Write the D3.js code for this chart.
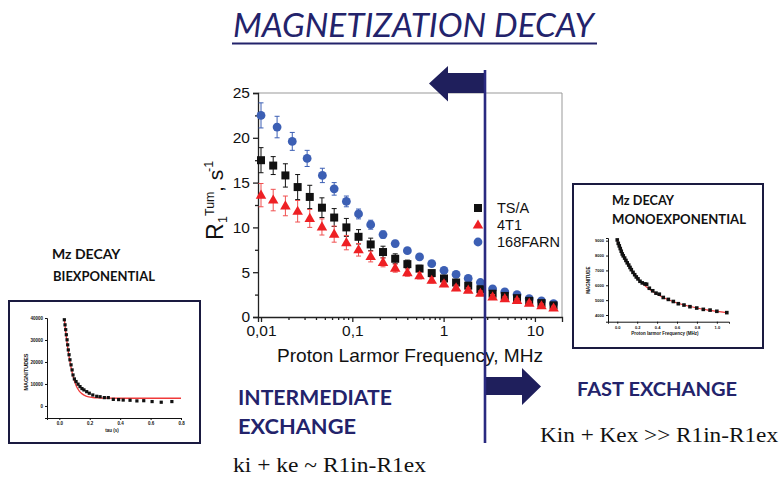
<!DOCTYPE html>
<html><head><meta charset="utf-8">
<script src="https://cdn.jsdelivr.net/npm/d3@7"></script>
<style>
html,body{margin:0;padding:0;background:#fff;}
svg{display:block;}
</style></head>
<body>
<svg id="c" width="780" height="478"></svg>
<script>
// ---------------- DATA ----------------
const freqs = [0.01, 0.0136, 0.0185, 0.0252, 0.0342, 0.0465, 0.0633, 0.0861, 0.117, 0.159, 0.217, 0.295, 0.401, 0.545, 0.741, 1.01, 1.37, 1.86, 2.53, 3.44, 4.68, 6.37, 8.66, 11.8, 16.0];
const freqsFARN = [0.01, 0.015, 0.022, 0.032, 0.047, 0.0633, 0.0861, 0.117, 0.159, 0.217, 0.295, 0.401, 0.545, 0.741, 1.01, 1.37, 1.86, 2.53, 3.44, 4.68, 6.37, 8.66, 11.8, 16.0];
const tsaR1 = [17.5, 16.9, 15.8, 14.5, 13.4, 12.2, 11.1, 10.0, 8.95, 8.1, 7.25, 6.5, 5.9, 5.4, 4.9, 4.3, 3.85, 3.5, 3.1, 2.6, 2.35, 2.1, 1.8, 1.55, 1.3];
const tsaErr = [1.4, 1.0, 1.3, 1.4, 1.3, 1.1, 1.0, 1.0, 0.8, 0.7, 0.65, 0.55, 0.45, 0.37, 0.3, 0.3, 0.3, 0.25, 0.25, 0.2, 0.2, 0.2, 0.15, 0.15, 0.15];
const t41R1 = [13.6, 13.05, 12.4, 11.8, 11.0, 10.05, 9.25, 8.3, 7.5, 6.75, 6.1, 5.45, 4.95, 4.6, 4.1, 3.7, 3.25, 3.0, 2.65, 2.25, 2.05, 1.85, 1.55, 1.25, 1.0];
const t41Err = [1.3, 1.2, 1.1, 1.2, 1.0, 0.9, 0.9, 0.8, 0.7, 0.6, 0.5, 0.45, 0.4, 0.35, 0.3, 0.3, 0.3, 0.25, 0.25, 0.25, 0.2, 0.2, 0.2, 0.2, 0.2];
const farnR1 = [22.5, 21.2, 19.6, 17.7, 15.8, 14.3, 12.9, 11.5, 10.3, 9.2, 8.2, 7.4, 6.7, 5.95, 5.2, 4.75, 4.3, 3.85, 3.15, 2.8, 2.5, 2.05, 1.8, 1.5];
const farnErr = [1.4, 1.2, 1.0, 0.9, 0.8, 0.7, 0.6, 0.55, 0.5, 0.4, 0.35, 0.3, 0.3, 0.25, 0.2, 0.2, 0.2, 0.15, 0.15, 0.15, 0.15, 0.15, 0.15, 0.15];
const seriesNames = ["TS/A", "4T1", "168FARN"];
const yTicks = [0, 5, 10, 15, 20, 25];
const xTicks = [0.01, 0.1, 1, 10];
const xTickLabels = ["0,01", "0,1", "1", "10"];
const exchangeBoundaryMHz = 2.84;

// left inset (biexponential)
const biTau = [0.033, 0.0375, 0.042, 0.046, 0.051, 0.055, 0.059, 0.064, 0.070, 0.077, 0.084, 0.090, 0.099, 0.110, 0.123, 0.136, 0.149, 0.162, 0.180, 0.197, 0.220, 0.246, 0.268, 0.296, 0.322, 0.355, 0.39, 0.42, 0.465, 0.51, 0.555, 0.61, 0.67, 0.74];
const biMag = [39200, 36900, 34700, 32400, 30100, 27800, 25500, 23300, 21000, 18700, 16400, 14100, 12300, 11100, 9900, 8800, 7900, 7300, 6500, 5800, 5000, 4400, 4200, 3800, 3800, 3000, 2900, 2700, 2600, 2300, 2400, 2000, 1700, 2000];
const biFitTau = [0.033, 0.045, 0.06, 0.075, 0.09, 0.11, 0.13, 0.15, 0.18, 0.22, 0.26, 0.3, 0.4, 0.5, 0.6, 0.7, 0.8];
const biFitMag = [39500, 32000, 24200, 18200, 13600, 9300, 6900, 5500, 4400, 3850, 3650, 3560, 3510, 3500, 3500, 3500, 3500];
const biXTicks = [0.0, 0.2, 0.4, 0.6, 0.8];
const biYTicks = [0, 10000, 20000, 30000, 40000];

// right inset (monoexponential)
const monoF = [0.0, 0.01, 0.02, 0.03, 0.04, 0.05, 0.06, 0.074, 0.087, 0.10, 0.115, 0.128, 0.141, 0.158, 0.175, 0.191, 0.208, 0.228, 0.251, 0.278, 0.295, 0.322, 0.356, 0.389, 0.422, 0.462, 0.513, 0.563, 0.613, 0.67, 0.73, 0.798, 0.864, 0.932, 1.0, 1.1];
const monoMag = [9050, 8820, 8650, 8470, 8290, 8110, 7980, 7830, 7670, 7510, 7360, 7200, 7050, 6870, 6710, 6560, 6430, 6270, 6160, 6090, 6070, 5800, 5630, 5470, 5400, 5180, 5050, 4910, 4760, 4670, 4560, 4470, 4380, 4330, 4250, 4160];
const monoFitF = [0.0, 0.05, 0.1, 0.15, 0.2, 0.25, 0.3, 0.4, 0.5, 0.6, 0.7, 0.8, 0.9, 1.0, 1.1];
const monoFitMag = [9000, 8130, 7520, 6980, 6500, 6130, 5850, 5390, 5060, 4810, 4620, 4470, 4350, 4240, 4160];
const monoXTicks = [0.0, 0.2, 0.4, 0.6, 0.8, 1.0];
const monoYTicks = [4000, 5000, 6000, 7000, 8000, 9000];

// ---------------- DRAW ----------------
const svg = d3.select("#c");
const NAVY = "#23236b";
const SANS = "'Liberation Sans', Arial, sans-serif";
const CAL = "Lato, 'Open Sans', sans-serif";
const SERIF = "'Liberation Serif', 'Times New Roman', serif";
const BLUE = "#3c5fb4", RED = "#ee2024", BLACK = "#111";

svg.append("rect").attr("width", 780).attr("height", 478).attr("fill", "#fff");

// Title
svg.append("text").attr("x", 233).attr("y", 37).attr("font-family", CAL).attr("font-style", "italic")
  .attr("font-size", 32).attr("fill", NAVY).attr("textLength", 361).attr("lengthAdjust", "spacingAndGlyphs")
  .text("MAGNETIZATION DECAY");
svg.append("line").attr("x1", 232).attr("x2", 597).attr("y1", 43.5).attr("y2", 43.5).attr("stroke", NAVY).attr("stroke-width", 2);

// Main chart
const M = {l: 258, r: 562, t: 93, b: 317};
const x = d3.scaleLog().domain([0.00927, 19.8]).range([M.l, M.r]);
const y = d3.scaleLinear().domain([0, 25]).range([M.b, M.t]);

const g = svg.append("g");
g.append("path").attr("d", `M${M.l},${M.t}H${M.r}V${M.b}`).attr("fill", "none").attr("stroke", "#999").attr("stroke-width", 1);

const yAx = g.append("g").attr("transform", `translate(${M.l},0)`)
  .call(d3.axisLeft(y).tickValues(yTicks).tickSize(5).tickPadding(3).tickFormat(d3.format("d")));
const yMinor = g.append("g").attr("transform", `translate(${M.l},0)`)
  .call(d3.axisLeft(y).tickValues([2.5, 7.5, 12.5, 17.5, 22.5]).tickSize(3).tickFormat(""));
yMinor.select(".domain").remove();
const xAx = g.append("g").attr("transform", `translate(0,${M.b})`)
  .call(d3.axisBottom(x).tickValues(xTicks).tickSize(5).tickPadding(3).tickFormat((d, i) => xTickLabels[i]));
const minors = [];
[0.01, 0.1, 1, 10].forEach(dec => { for (let k = 2; k <= 9; k++) { const v = dec * k; if (v < 19.8) minors.push(v); } });
const xMinor = g.append("g").attr("transform", `translate(0,${M.b})`)
  .call(d3.axisBottom(x).tickValues(minors).tickSize(3).tickFormat(""));
xMinor.select(".domain").remove();
[yAx, xAx, yMinor, xMinor].forEach(a => {
  a.selectAll("path,line").attr("stroke", "#222").attr("stroke-width", 1.3);
  a.selectAll("text").attr("font-family", SANS).attr("font-size", 15.5).attr("fill", "#111");
});

// axis titles
svg.append("text").attr("x", 277).attr("y", 362).attr("font-family", SANS)
  .attr("font-size", 18.5).attr("fill", "#111").attr("textLength", 266).attr("lengthAdjust", "spacingAndGlyphs")
  .text("Proton Larmor Frequency, MHz");
const yl = svg.append("g").attr("transform", "translate(222.7,240) rotate(-90)")
  .attr("font-family", SANS).attr("fill", "#111");
yl.append("text").attr("x", 0).attr("y", 0).attr("font-size", 23).text("R");
yl.append("text").attr("x", 24).attr("y", -9).attr("font-size", 12.5).text("Tum");
yl.append("text").attr("x", 17).attr("y", 4).attr("font-size", 12.5).text("1");
yl.append("text").attr("x", 48).attr("y", 0).attr("font-size", 21).text(", s");
yl.append("text").attr("x", 68).attr("y", -10).attr("font-size", 12.5).text("-1");

// series
function errorBars(fr, vals, errs, color) {
  const eg = g.append("g").attr("stroke", color).attr("stroke-width", 1).attr("fill", "none");
  fr.forEach((f, i) => {
    const cx = x(f), y1 = y(vals[i] + errs[i]), y0 = y(vals[i] - errs[i]);
    eg.append("path").attr("d", `M${cx},${y0}V${y1}M${cx - 2.5},${y1}H${cx + 2.5}M${cx - 2.5},${y0}H${cx + 2.5}`);
  });
}
errorBars(freqsFARN, farnR1, farnErr, BLUE);
g.append("g").selectAll("circle").data(freqsFARN).join("circle")
  .attr("cx", d => x(d)).attr("cy", (d, i) => y(farnR1[i])).attr("r", 4.4).attr("fill", BLUE);
errorBars(freqs, tsaR1, tsaErr, BLACK);
g.append("g").selectAll("rect").data(freqs).join("rect")
  .attr("x", d => x(d) - 4).attr("y", (d, i) => y(tsaR1[i]) - 4).attr("width", 8).attr("height", 8).attr("fill", BLACK);
errorBars(freqs, t41R1, t41Err, "#f05050");
const tri = d3.symbol().type(d3.symbolTriangle).size(48);
g.append("g").selectAll("path").data(freqs).join("path")
  .attr("d", tri).attr("transform", (d, i) => `translate(${x(d)},${y(t41R1[i]) + 0.5})`).attr("fill", RED);

// legend
const lg = svg.append("g").attr("font-family", SANS).attr("font-size", 14.5).attr("fill", "#111");
const lx = 478, ly = [208, 225, 242];
lg.append("rect").attr("x", lx - 4).attr("y", ly[0] - 4).attr("width", 8).attr("height", 8).attr("fill", BLACK);
lg.append("path").attr("d", tri).attr("transform", `translate(${lx},${ly[1] + 0.5})`).attr("fill", RED);
lg.append("circle").attr("cx", lx).attr("cy", ly[2]).attr("r", 4.4).attr("fill", BLUE);
seriesNames.forEach((n, i) => lg.append("text").attr("x", 497).attr("y", ly[i]).attr("dy", "0.36em").text(n));

// arrows and boundary line
const bx = x(exchangeBoundaryMHz);
const ARROW = "#1f1f5c";
svg.append("path").attr("fill", ARROW)
  .attr("d", `M${bx},73H${bx - 37}V66L${bx - 56},83.5L${bx - 37},101.5V93H${bx}Z`);
svg.append("path").attr("fill", ARROW)
  .attr("d", `M${bx},377H${bx + 37}V368L${bx + 56},386.5L${bx + 37},405V395H${bx}Z`);
svg.append("line").attr("x1", bx).attr("x2", bx).attr("y1", 70).attr("y2", 443).attr("stroke", "#2a2a80").attr("stroke-width", 2.6);

// exchange texts
svg.append("text").attr("x", 238).attr("y", 405).attr("font-family", CAL).attr("font-weight", "bold").attr("font-size", 20.5)
  .attr("fill", NAVY).attr("textLength", 154).attr("lengthAdjust", "spacingAndGlyphs").text("INTERMEDIATE");
svg.append("text").attr("x", 238).attr("y", 434).attr("font-family", CAL).attr("font-weight", "bold").attr("font-size", 20.5)
  .attr("fill", NAVY).attr("textLength", 118).attr("lengthAdjust", "spacingAndGlyphs").text("EXCHANGE");
svg.append("text").attr("x", 233).attr("y", 472).attr("font-family", SERIF).attr("font-size", 21)
  .attr("fill", "#111").attr("textLength", 193).attr("lengthAdjust", "spacingAndGlyphs").text("ki + ke ~ R1in-R1ex");
svg.append("text").attr("x", 577).attr("y", 396).attr("font-family", CAL).attr("font-weight", "bold").attr("font-size", 18.5)
  .attr("fill", NAVY).attr("textLength", 160).attr("lengthAdjust", "spacingAndGlyphs").text("FAST EXCHANGE");
svg.append("text").attr("x", 540).attr("y", 442).attr("font-family", SERIF).attr("font-size", 21)
  .attr("fill", "#111").attr("textLength", 238).attr("lengthAdjust", "spacingAndGlyphs").text("Kin + Kex >> R1in-R1ex");

// ---------- Left inset ----------
svg.append("text").attr("x", 52).attr("y", 259).attr("font-family", CAL).attr("font-weight", "bold").attr("font-size", 14)
  .attr("fill", "#111").text("Mz DECAY");
svg.append("text").attr("x", 53).attr("y", 280.5).attr("font-family", CAL).attr("font-weight", "bold").attr("font-size", 14)
  .attr("fill", "#111").attr("textLength", 102).attr("lengthAdjust", "spacingAndGlyphs").text("BIEXPONENTIAL");
svg.append("rect").attr("x", 9).attr("y", 301).attr("width", 191).attr("height", 142).attr("fill", "#fff")
  .attr("stroke", "#1a1a40").attr("stroke-width", 2);
const bxs = d3.scaleLinear().domain([-0.081, 0.8]).range([47, 181]);
const bys = d3.scaleLinear().domain([-5470, 40000]).range([418, 318]);
const bax = svg.append("g").attr("transform", "translate(47,0)")
  .call(d3.axisLeft(bys).tickValues(biYTicks).tickSize(2).tickPadding(2).tickFormat(d3.format("d")));
const bxx = svg.append("g").attr("transform", "translate(0,418)")
  .call(d3.axisBottom(bxs).tickValues(biXTicks).tickSize(2).tickPadding(2).tickFormat(d3.format(".1f")));
[bax, bxx].forEach(a => {
  a.selectAll("path,line").attr("stroke", "#111").attr("stroke-width", 1);
  a.selectAll("text").attr("font-family", SANS).attr("font-size", 4.5).attr("font-weight", "bold").attr("fill", "#111");
});
svg.append("text").attr("transform", "translate(28,372) rotate(-90)").attr("text-anchor", "middle")
  .attr("font-family", SANS).attr("font-weight", "bold").attr("font-size", 5.5).attr("fill", "#111").text("MAGNITUDES");
svg.append("text").attr("x", 112).attr("y", 432).attr("text-anchor", "middle")
  .attr("font-family", SANS).attr("font-weight", "bold").attr("font-size", 4.5).attr("fill", "#111").text("tau (s)");
svg.append("path").datum(biFitTau.map((t, i) => [t, biFitMag[i]]))
  .attr("d", d3.line().x(d => bxs(d[0])).y(d => bys(d[1])).curve(d3.curveMonotoneX))
  .attr("fill", "none").attr("stroke", "#f03a3a").attr("stroke-width", 1.3);
svg.append("g").selectAll("rect").data(biTau).join("rect")
  .attr("x", d => bxs(d) - 1.6).attr("y", (d, i) => bys(biMag[i]) - 1.6).attr("width", 3.2).attr("height", 3.2).attr("fill", "#111");

// ---------- Right inset ----------
svg.append("rect").attr("x", 573).attr("y", 184).attr("width", 190).attr("height", 164).attr("fill", "#fff")
  .attr("stroke", "#1a1a40").attr("stroke-width", 2);
svg.append("text").attr("x", 612).attr("y", 205).attr("font-family", CAL).attr("font-weight", "bold").attr("font-size", 14)
  .attr("fill", "#111").attr("textLength", 62).attr("lengthAdjust", "spacingAndGlyphs").text("Mz DECAY");
svg.append("text").attr("x", 612).attr("y", 224).attr("font-family", CAL).attr("font-weight", "bold").attr("font-size", 14)
  .attr("fill", "#111").attr("textLength", 134).attr("lengthAdjust", "spacingAndGlyphs").text("MONOEXPONENTIAL");
const mxs = d3.scaleLinear().domain([-0.093, 1.122]).range([608, 729]);
const mys = d3.scaleLinear().domain([3550, 9180]).range([321.7, 238]);
const may = svg.append("g").attr("transform", "translate(608,0)")
  .call(d3.axisLeft(mys).tickValues(monoYTicks).tickSize(2).tickPadding(2).tickFormat(d3.format("d")));
const max = svg.append("g").attr("transform", "translate(0,321.7)")
  .call(d3.axisBottom(mxs).tickValues(monoXTicks).tickSize(2).tickPadding(2).tickFormat(d3.format(".1f")));
[may, max].forEach(a => {
  a.selectAll("path,line").attr("stroke", "#111").attr("stroke-width", 1);
  a.selectAll("text").attr("font-family", SANS).attr("font-size", 4).attr("font-weight", "bold").attr("fill", "#111");
});
svg.append("text").attr("transform", "translate(590,280) rotate(-90)").attr("text-anchor", "middle")
  .attr("font-family", SANS).attr("font-weight", "bold").attr("font-size", 4.5).attr("fill", "#111").text("MAGNITUDE");
svg.append("text").attr("x", 665).attr("y", 335).attr("text-anchor", "middle")
  .attr("font-family", SANS).attr("font-weight", "bold").attr("font-size", 4.5).attr("fill", "#111").text("Proton larmor Frequency (MHz)");
svg.append("path").datum(monoFitF.map((t, i) => [t, monoFitMag[i]]))
  .attr("d", d3.line().x(d => mxs(d[0])).y(d => mys(d[1])).curve(d3.curveMonotoneX))
  .attr("fill", "none").attr("stroke", "#f03a3a").attr("stroke-width", 1.2);
svg.append("g").selectAll("rect").data(monoF).join("rect")
  .attr("x", d => mxs(d) - 1.8).attr("y", (d, i) => mys(monoMag[i]) - 1.8).attr("width", 3.6).attr("height", 3.6).attr("fill", "#111");
</script>
</body></html>
